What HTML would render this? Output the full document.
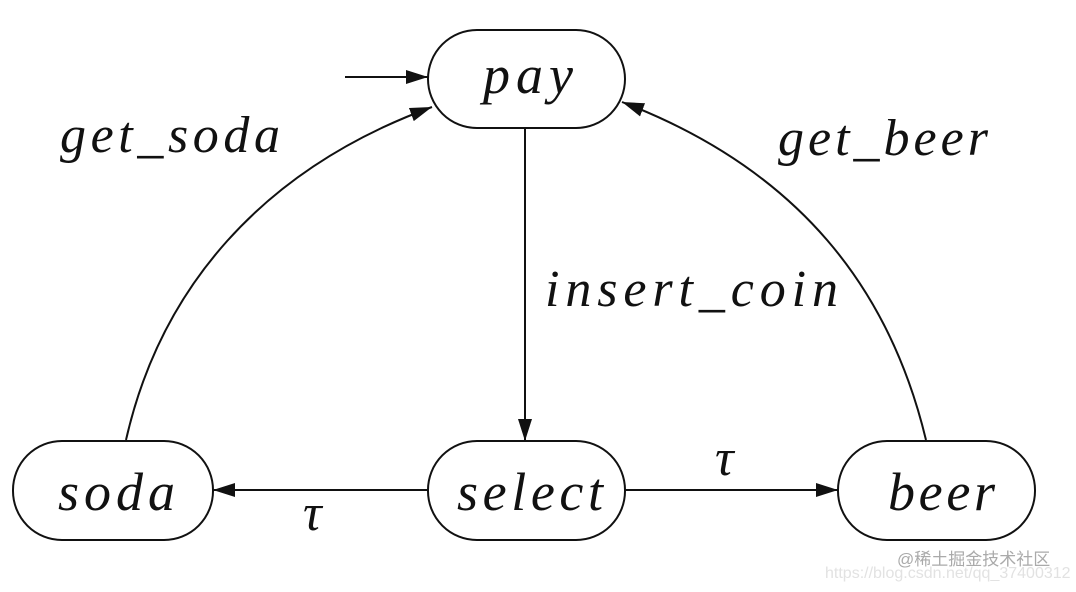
<!DOCTYPE html>
<html><head><meta charset="utf-8"><style>
body{margin:0;background:#fff;width:1076px;height:587px;overflow:hidden}
text{font-family:"Liberation Serif",serif;font-style:italic;fill:#111}
</style></head><body>
<svg width="1076" height="587" viewBox="0 0 1076 587">
<defs><marker id="a" markerWidth="24" markerHeight="14" refX="22" refY="7" orient="auto" markerUnits="userSpaceOnUse"><path d="M0,0 L22,7 L0,14 Z" fill="#111"/></marker></defs>
<g fill="none" stroke="#111" stroke-width="2">
<rect x="428" y="30" width="197" height="98" rx="49"/>
<rect x="428" y="441" width="197" height="99" rx="49"/>
<rect x="13" y="441" width="200" height="99" rx="49"/>
<rect x="838" y="441" width="197" height="99" rx="49"/>
<line x1="345" y1="77" x2="428" y2="77" marker-end="url(#a)"/>
<line x1="525" y1="128" x2="525" y2="441" marker-end="url(#a)"/>
<line x1="428" y1="490" x2="213" y2="490" marker-end="url(#a)"/>
<line x1="625" y1="490" x2="838" y2="490" marker-end="url(#a)"/>
<path d="M126,440 C160,290 260,170 432,107" marker-end="url(#a)"/>
<path d="M926,440 C890,290 800,170 622,102" marker-end="url(#a)"/>
</g>
<g font-size="54" lengthAdjust="spacing">
<text x="483" y="93" textLength="90" lengthAdjust="spacing">pay</text>
<text x="457" y="510" textLength="146" lengthAdjust="spacing">select</text>
<text x="58" y="510" textLength="117" lengthAdjust="spacing">soda</text>
<text x="888" y="510" textLength="107" lengthAdjust="spacing">beer</text>
</g>
<g font-size="52">
<text x="60" y="152" textLength="220" lengthAdjust="spacing">get_soda</text>
<text x="778" y="155" textLength="210" lengthAdjust="spacing">get_beer</text>
<text x="545" y="306" textLength="293" lengthAdjust="spacing">insert_coin</text>
<text x="303" y="530">τ</text>
<text x="715" y="475">τ</text>
</g>
<text x="897" y="565" font-size="17" style="font-style:normal;fill:#aaa;font-family:'Liberation Sans','Noto Sans CJK SC',sans-serif">@稀土掘金技术社区</text>
<text x="825" y="578" font-size="16" style="font-style:normal;fill:#e2e2e2;font-family:'Liberation Sans',sans-serif">https://blog.csdn.net/qq_37400312</text>
</svg>
</body></html>
